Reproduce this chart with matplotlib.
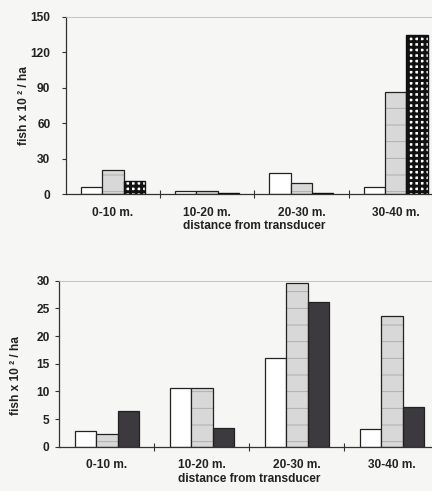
import matplotlib
matplotlib.use("Agg")
import matplotlib.pyplot as plt
import numpy as np

categories = ["0-10 m.", "10-20 m.", "20-30 m.", "30-40 m."]

top_white = [5.9, 2.5, 17.7, 5.9]
top_grey = [20.5, 2.5, 9.6, 86.4]
top_check = [11.0, 0.8, 1.1, 134.8]
top_yticks = [0, 30, 60, 90, 120, 150]

bot_white = [2.8, 10.6, 16.0, 3.2]
bot_grey = [2.35, 10.6, 29.6, 23.6]
bot_dark = [6.5, 3.3, 26.1, 7.2]
bot_yticks = [0, 5, 10, 15, 20, 25, 30]

xlabel = "distance from transducer"
ylabel = "fish x 10 \u00b2 / ha"

plt.rcParams['font.family'] = ['Liberation Sans', 'DejaVu Sans']
plt.rcParams['font.weight'] = 'bold'
plt.rcParams['hatch.linewidth'] = 0.6

W, H = 432, 491
bg = '#f6f6f4'
fs = 8.6
fig = plt.figure(figsize=(W / 100, H / 100), dpi=100, facecolor=bg)

def px_axes(left, top, bottom, width):
    return fig.add_axes([left / W, (H - bottom) / H, width / W, (bottom - top) / H])

ax1 = px_axes(65.7, 16.7, 194.3, 377.2)
ax2 = px_axes(59.3, 280.7, 446.7, 380.0)

bw = 0.226
x = np.arange(len(categories))

def draw(ax, s1, s2, s3, third_style, yticks, labx, laby, ypad):
    ax.set_facecolor(bg)
    ax.bar(x - bw, s1, bw, facecolor='white', edgecolor='#222222', linewidth=0.9, zorder=2)
    # grey bars with faint horizontal lines
    ax.bar(x, s2, bw, facecolor='#d8d8d8', edgecolor='#a8a8a8', linewidth=0, hatch='-', zorder=2)
    ax.bar(x, s2, bw, facecolor='none', edgecolor='#222222', linewidth=0.9, zorder=3)
    if third_style == 'check':
        with plt.rc_context({'hatch.linewidth': 2.1}):
            b = ax.bar(x + bw, s3, bw, facecolor='white', edgecolor='#111111', linewidth=0, hatch='+++', zorder=2)
            for p in b:
                if hasattr(p, 'set_hatch_linewidth'):
                    p.set_hatch_linewidth(2.1)
        ax.bar(x + bw, s3, bw, facecolor='none', edgecolor='#111111', linewidth=1.0, zorder=3)
    else:
        ax.bar(x + bw, s3, bw, facecolor='#3c3a3e', edgecolor='#222222', linewidth=0.9, zorder=2)
    ax.set_xlim(-0.5, len(categories) - 0.5)
    ax.set_ylim(yticks[0], yticks[-1])
    ax.set_yticks(yticks)
    ax.set_yticklabels([str(t) for t in yticks], fontsize=fs, fontweight='bold', color='#222222')
    ax.tick_params(axis='y', direction='out', length=3, width=0.8, pad=ypad, colors='#333333', labelcolor='#222222')
    ax.set_xticks(x)
    ax.set_xticklabels(categories, fontsize=fs, fontweight='bold', color='#222222')
    ax.tick_params(axis='x', which='major', length=0, pad=9)
    ax.set_xticks(x[:-1] + 0.5, minor=True)
    ax.tick_params(axis='x', which='minor', direction='inout', length=6, width=0.8, colors='#333333')
    ax.set_xlabel(xlabel, fontsize=fs, fontweight='bold', color='#222222', labelpad=1)
    ax.set_ylabel(ylabel, fontsize=fs, fontweight='bold', color='#222222')
    ax.yaxis.set_label_coords(labx, laby)
    for s in ['left', 'bottom']:
        ax.spines[s].set_color('#333333')
        ax.spines[s].set_linewidth(0.9)
    ax.spines['top'].set_color('#bbbbbb')
    ax.spines['top'].set_linewidth(0.6)
    ax.spines['right'].set_visible(False)

draw(ax1, top_white, top_grey, top_check, 'check', top_yticks, -0.095, 0.5, 8)
draw(ax2, bot_white, bot_grey, bot_dark, 'dark', bot_yticks, -0.098, 0.43, 4)

fig.savefig("out.png", dpi=100, facecolor=bg)
